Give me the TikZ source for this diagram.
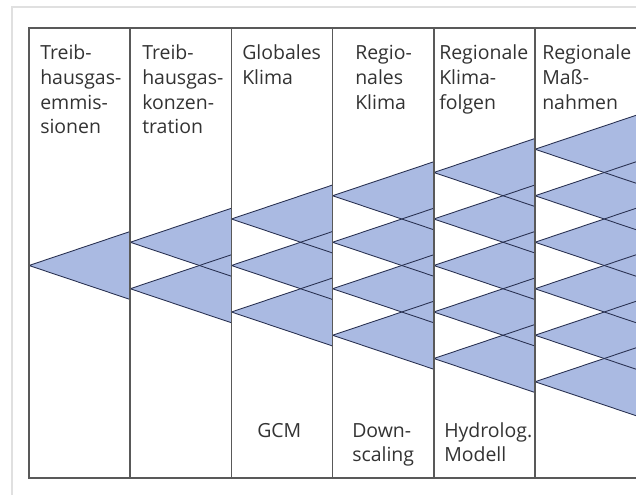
\documentclass[tikz,border=0pt]{standalone}
\usepackage{fontspec}
\setmainfont{Open Sans}
\usetikzlibrary{positioning}
\definecolor{wedgeblue}{RGB}{170,186,226}
\definecolor{wedgeedge}{RGB}{40,48,80}

\begin{document}
\begin{tikzpicture}[x=0.75pt,y=-0.75pt]
    \tikzset{
      frameline/.style={draw=black!65,line width=1.1pt},
      outerline/.style={draw=black!12,line width=1.1pt},
      wedge/.style={fill=wedgeblue},
      wedgeline/.style={draw=wedgeedge,line width=0.65pt,line join=round},
      coltext/.style={anchor=base west,inner sep=0pt,align=left,text width=72pt,font=\fontsize{14.6}{18.4}\selectfont,text=black!80}
    }
    \useasboundingbox (0,0) rectangle (636,495);
    \clip (0,0) rectangle (636,495);
    \fill[white] (0,0) rectangle (636,495);

    % wedges: column k holds k+1 triangles
    \foreach \k in {0,...,5}{
      \foreach \j in {0,...,\k}{
        \pgfmathsetmacro\ya{265.5+(\j-\k/2)*46.5}
        \fill[wedge] (29+\k*101.2,\ya) -- ++(101.2,-34) -- ++(0,68) -- cycle;
      }
    }
    \foreach \k in {0,...,5}{
      \foreach \j in {0,...,\k}{
        \pgfmathsetmacro\ya{265.5+(\j-\k/2)*46.5}
        \draw[wedgeline] (29+\k*101.2+101.2,\ya-34) -- (29+\k*101.2,\ya) -- ++(101.2,34);
      }
    }

    \draw[outerline] (12,500) -- (12,7) -- (640,7);
    \draw[frameline] (640,28) -- (29,28) -- (29,478) -- (640,478);
    \foreach \k in {1,...,5}
      \draw[frameline] (29+\k*101.2,28) -- (29+\k*101.2,478);

    \node[coltext] (emission) at (40,60) {Treib-\\hausgas-\\emmis-\\sionen};
    \node[coltext] (concentration) at (142,60) {Treib-\\hausgas-\\konzen-\\tration};
    \node[coltext] (globalclimate) at (242,60) {Globales\\Klima};
    \node[coltext] (regionalclimate) at (355,60) {Regio-\\nales\\Klima};
    \node[coltext] (impacts) at (439,60) {Regionale\\Klima-\\folgen};
    \node[coltext] (measures) at (542,60) {Regionale\\Maß-\\nahmen};

    \node[coltext] (gcm) at (257,437) {GCM};
    \node[coltext] (downscaling) at (352,437) {Down-\\scaling};
    \node[coltext] (hydromodel) at (444,437) {Hydrolog.\\Modell};

  \end{tikzpicture}
\end{document}
